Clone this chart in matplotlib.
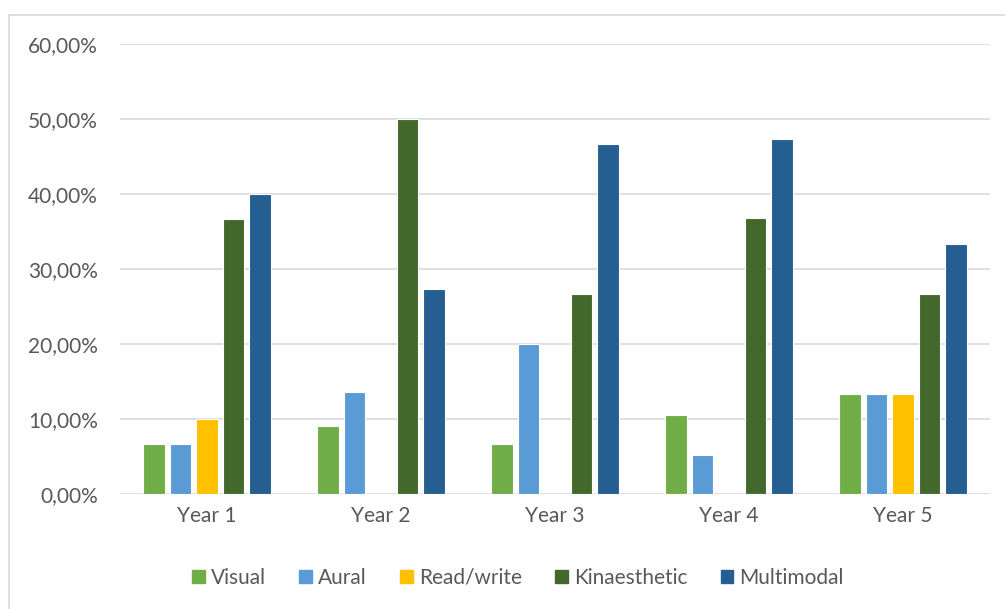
import numpy as np
import matplotlib.pyplot as plt
from matplotlib.lines import Line2D

plt.rcParams['font.family'] = ['Lato', 'DejaVu Sans']

years = ['Year 1', 'Year 2', 'Year 3', 'Year 4', 'Year 5']
styles = ['Visual', 'Aural', 'Read/write', 'Kinaesthetic', 'Multimodal']
visual = [6.67, 9.09, 6.67, 10.53, 13.33]
aural = [6.67, 13.64, 20.00, 5.26, 13.33]
read_write = [10.00, 0.00, 0.00, 0.00, 13.33]
kinaesthetic = [36.67, 50.00, 26.67, 36.84, 26.67]
multimodal = [40.00, 27.27, 46.67, 47.37, 33.33]
colors = ['#70AD47', '#5B9BD5', '#FFC000', '#43682B', '#255E91']

series = [visual, aural, read_write, kinaesthetic, multimodal]

fig = plt.figure(figsize=(10.05, 6.09), dpi=100)
ax = fig.add_axes([120 / 1005, 115 / 609, 870 / 1005, 450 / 609])

x = np.arange(len(years))
step = 0.153
width = 0.125
for i, (vals, c) in enumerate(zip(series, colors)):
    ax.bar(x + (i - 2) * step, vals, width, color=c, edgecolor='white',
           linewidth=0.8, label=styles[i], zorder=3)

ax.set_xlim(-0.5, 4.5)
ax.set_ylim(0, 60)
ax.set_yticks(np.arange(0, 61, 10))
ax.set_yticklabels([f'{v:.2f}%'.replace('.', ',') for v in range(0, 61, 10)])
ax.set_xticks(x)
ax.set_xticklabels(years)
ax.tick_params(axis='both', length=0, labelsize=15, labelcolor='#595959')
ax.tick_params(axis='y', pad=16)
ax.tick_params(axis='x', pad=9)
ax.grid(axis='y', color='#D9D9D9', linewidth=1.2, zorder=0)
for s in ax.spines.values():
    s.set_visible(False)

# chart border
fig.add_artist(Line2D([9 / 1005, 9 / 1005], [0, 1 - 15 / 609], color='#D9D9D9', lw=1.2))
fig.add_artist(Line2D([9 / 1005, 1], [1 - 15 / 609, 1 - 15 / 609], color='#D9D9D9', lw=1.2))

handles = [plt.Rectangle((0, 0), 1, 1, color=c) for c in colors]
fig.legend(handles, styles, loc='center', bbox_to_anchor=(518 / 1005, 1 - 578 / 609),
           ncol=5, frameon=False, fontsize=15, labelcolor='#595959',
           handlelength=0.6, handleheight=0.6, handletextpad=0.3, columnspacing=1.6)

fig.savefig('out.png', dpi=100)
